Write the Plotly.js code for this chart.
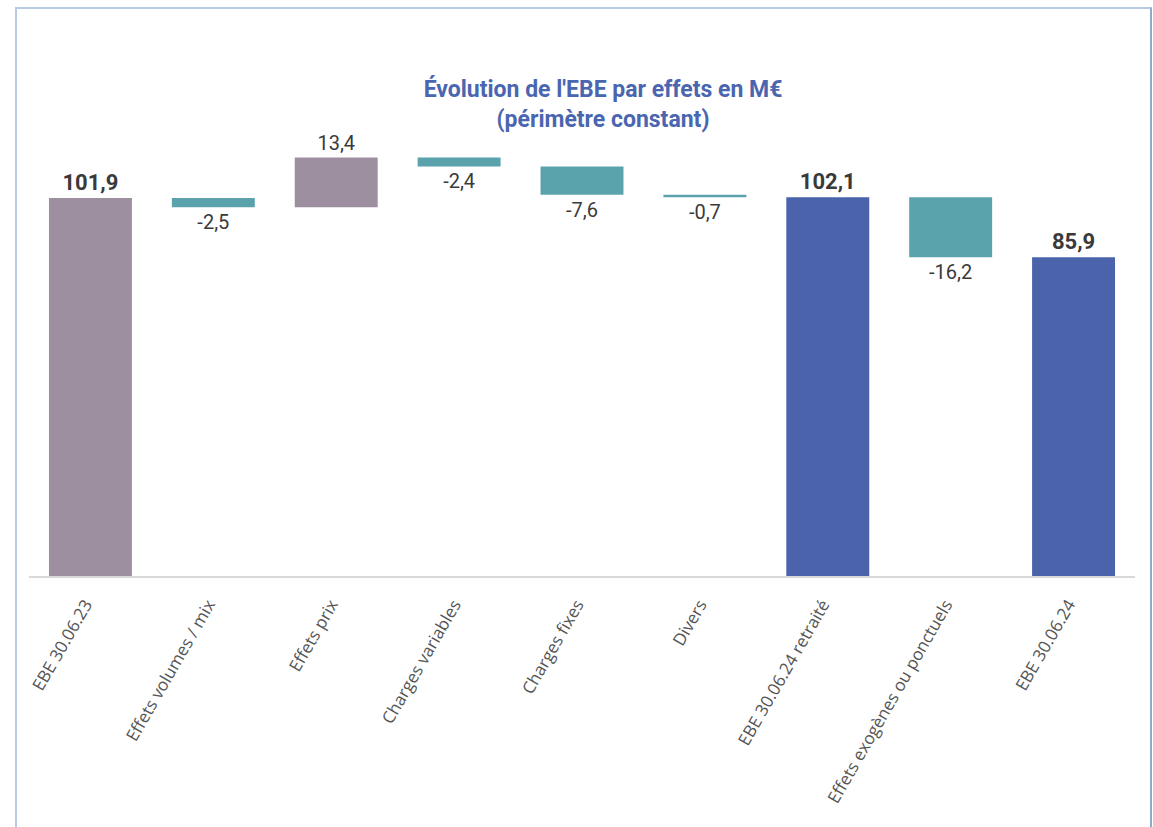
<!DOCTYPE html>
<html>
<head>
<meta charset="utf-8">
<script src="https://cdn.plot.ly/plotly-3.0.1.min.js"></script>
<style>
  html, body { margin: 0; padding: 0; background: #ffffff; }
  #wrap { position: relative; width: 1153px; height: 827px; }
  #chart { position: absolute; left: 0; top: 0; width: 1153px; height: 827px; }
  #frame { position: absolute; left: 15px; top: 7px; width: 1133px; height: 840px;
           border-top: 2px solid #b7cbe0; border-left: 2px solid #b7cbe0; border-right: 2px solid #8fa9c9;
           pointer-events: none; }
</style>
</head>
<body>
<div id="wrap">
  <div id="chart"></div>
  <div id="frame"></div>
</div>
<script>
// ---- Data ----
const categories = [
  "EBE 30.06.23",
  "Effets volumes / mix",
  "Effets prix",
  "Charges variables",
  "Charges fixes",
  "Divers",
  "EBE 30.06.24 retraité",
  "Effets exogènes ou ponctuels",
  "EBE 30.06.24"
];
const values = [101.9, -2.5, 13.4, -2.4, -7.6, -0.7, 102.1, -16.2, 85.9];
const kinds  = ["total", "delta", "delta", "delta", "delta", "delta", "total", "delta", "total"];
const barColors = ["#9d8f9f", "#5ba3ac", "#9d8f9f", "#5ba3ac", "#5ba3ac", "#5ba3ac", "#4a63ab", "#5ba3ac", "#4a63ab"];

// ---- Derived bases (waterfall running total) ----
const bases = [];
let running = 0;
for (let i = 0; i < values.length; i++) {
  if (kinds[i] === "total") { bases.push(0); running = values[i]; }
  else { bases.push(running); running += values[i]; }
}
const fmt = v => v.toFixed(1).replace(".", ",");
const labels = values.map((v, i) => kinds[i] === "total" ? "<b>" + fmt(v) + "</b>" : fmt(v));
const labelSizes = kinds.map(k => k === "total" ? 22 : 20);

const trace = {
  type: "bar",
  x: categories,
  y: values,
  base: bases,
  marker: { color: barColors, line: { width: 0 } },
  text: labels,
  textposition: "outside",
  cliponaxis: false,
  textfont: { family: "Roboto, sans-serif", size: labelSizes, color: "#3a3a3a" },
  hoverinfo: "skip"
};

const pxPerUnit = 378 / 101.9;
const plotHeight = 576 - 130;

const layout = {
  width: 1153,
  height: 827,
  paper_bgcolor: "rgba(0,0,0,0)",
  plot_bgcolor: "rgba(0,0,0,0)",
  margin: { l: 29, r: 18, t: 130, b: 251 },
  bargap: 0.325,
  showlegend: false,
  title: {
    text: "<b>Évolution de l'EBE par effets en M€<br>(périmètre constant)</b>",
    font: { family: "Roboto, sans-serif", size: 23, color: "#4a66b0" },
    x: 0.523, xanchor: "center",
    y: 1 - 97 / 827, yanchor: "middle", yref: "container"
  },
  xaxis: {
    type: "category",
    showline: true,
    linecolor: "#d9d9d9",
    linewidth: 2,
    ticks: "",
    tickangle: -60,
    ticklabelstandoff: 10,
    ticklabelshift: -5,
    tickfont: { family: "Open Sans, sans-serif", size: 17, color: "#555555" },
    showgrid: false,
    zeroline: false
  },
  yaxis: {
    visible: false,
    range: [0, plotHeight / pxPerUnit],
    showgrid: false,
    zeroline: false
  }
};

Plotly.newPlot("chart", [trace], layout, { displayModeBar: false, staticPlot: true });
</script>
</body>
</html>
